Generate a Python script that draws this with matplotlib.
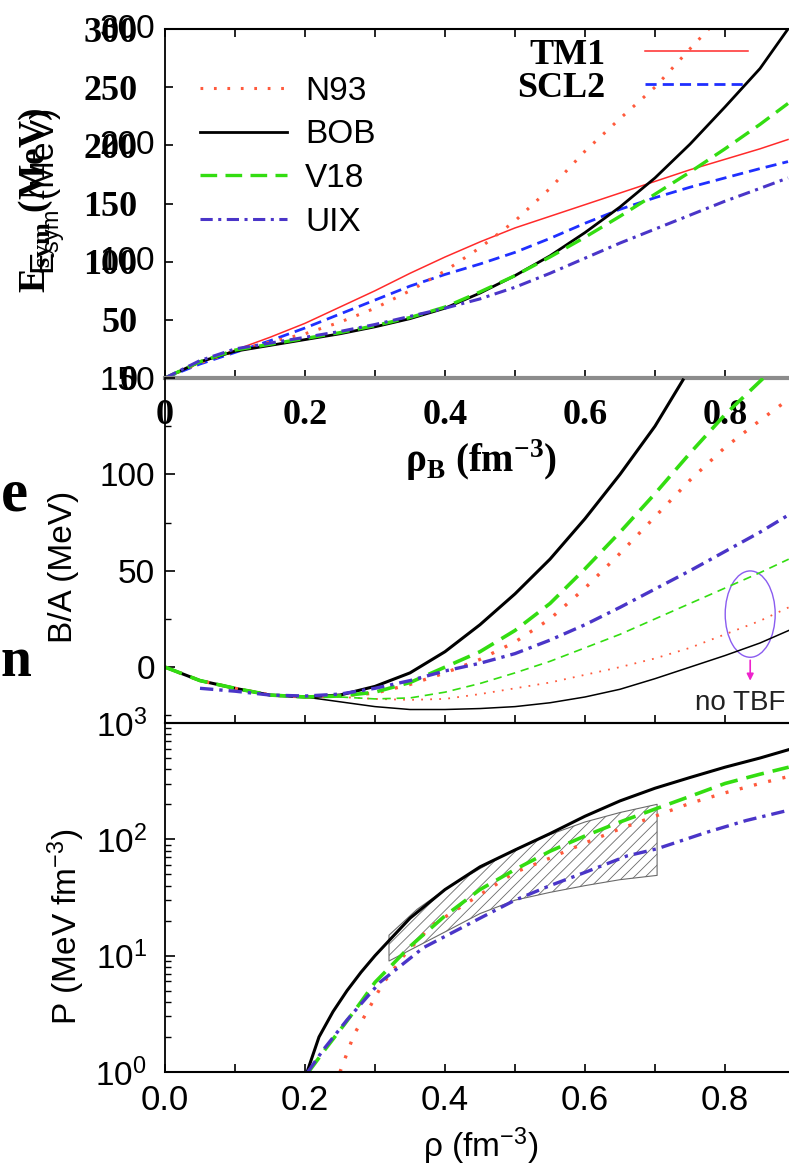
import numpy as np
import matplotlib.pyplot as plt
from matplotlib.patches import Ellipse

plt.rcParams['font.family'] = ['Liberation Sans', 'DejaVu Sans']
plt.rcParams['mathtext.fontset'] = 'custom'
plt.rcParams['mathtext.rm'] = 'Liberation Sans'
plt.rcParams['mathtext.it'] = 'Liberation Sans:italic'
plt.rcParams['mathtext.bf'] = 'Liberation Serif:bold'
plt.rcParams['mathtext.sf'] = 'Liberation Sans'
plt.rcParams['hatch.linewidth'] = 0.6

SANS = 'Liberation Sans'
SERIF = 'Liberation Serif'

# --- top panel: symmetry energy (MeV) vs rho_B (fm^-3)
RHO_SYM = [0, .05, .1, .15, .2, .25, .3, .35, .4, .45, .5, .55, .6, .65, .7, .75, .8, .85, .89]
ESYM_TM1 = [0, 13, 24, 35, 47, 61, 75, 90, 104, 117, 129, 139, 149, 159, 169, 179, 188, 197, 205]
ESYM_SCL2 = [0, 12, 22, 32, 43, 55, 67, 79, 89, 98, 108, 120, 133, 145, 155, 164, 172, 180, 186]
ESYM_BOB = [0, 14, 23, 28, 33, 38, 44, 51, 60, 73, 88, 105, 125, 147, 172, 201, 233, 266, 300]
ESYM_V18 = [0, 14, 24, 29, 34, 39, 45, 52, 61, 74, 88, 104, 121, 139, 158, 177, 197, 218, 236]
ESYM_UIX = [0, 15, 25, 30, 35, 40, 46, 53, 60, 68, 78, 90, 103, 116, 128, 140, 152, 163, 172]
RHO_SYM_N93 = [0, .05, .1, .15, .2, .25, .3, .35, .4, .45, .5, .55, .6, .65, .7, .75, .78]
ESYM_N93 = [0, 13, 23, 31, 38, 48, 60, 75, 92, 112, 135, 163, 195, 223, 250, 283, 302]

# --- middle panel: B/A (MeV), with TBF
RHO_EA_BOB = [0, .05, .1, .15, .2, .25, .3, .35, .4, .45, .5, .55, .6, .65, .7, .74]
EA_BOB = [0, -7, -11, -14.5, -15.5, -14.5, -10, -3, 8, 22, 38, 56, 77, 100, 125, 149]
RHO_EA_V18 = [0, .05, .1, .15, .2, .25, .3, .35, .4, .45, .5, .55, .6, .65, .7, .75, .8, .855]
EA_V18 = [0, -7, -11, -14.5, -15.5, -15, -13, -8, 0, 8, 19, 33, 51, 70, 90, 111, 131, 150]
RHO_EA_N93 = [0, .05, .1, .15, .2, .25, .3, .35, .4, .45, .5, .55, .6, .65, .7, .75, .8, .85, .891]
EA_N93 = [0, -7, -11, -14.5, -15.5, -15, -13.5, -9, -3, 4, 13, 25, 41, 59, 78, 97, 114, 128, 139]
RHO_EA_UIX = [.05, .1, .15, .2, .25, .3, .35, .4, .45, .5, .55, .6, .65, .7, .75, .8, .85, .891]
EA_UIX = [-11, -12.5, -14.5, -15, -14, -11, -7, -2, 2, 7, 14, 22, 31, 40.5, 50, 60, 70, 79]
# without TBF
RHO_NT = [.25, .3, .35, .4, .45, .5, .55, .6, .65, .7, .75, .8, .85, .891]
EA_V18_NT = [-15.5, -16.5, -16, -13, -8.5, -3, 3, 10, 17, 25, 33, 41, 49, 56]
EA_N93_NT = [-15.5, -16.5, -17, -16.5, -14, -11, -8, -4, 0, 4.5, 10, 17, 24, 31]
RHO_NT_BOB = [.2, .25, .3, .35, .4, .45, .5, .55, .6, .65, .7, .75, .8, .85, .891]
EA_BOB_NT = [-15.5, -18, -20.5, -22, -22, -21.5, -20.5, -18.5, -15.5, -11.5, -6, 0, 6, 12.5, 19]

# --- bottom panel: pressure (MeV fm^-3)
RHO_P_BOB = [.203, .22, .24, .26, .28, .3, .35, .4, .45, .5, .55, .6, .65, .7, .75, .8, .85, .891]
P_BOB = [1.0, 2.0, 3.3, 5.0, 7.2, 10, 21, 37, 58, 81, 112, 158, 214, 275, 340, 417, 500, 590]
RHO_P_V18 = [.205, .23, .257, .28, .3, .35, .4, .45, .5, .55, .6, .65, .7, .75, .8, .85, .891]
P_V18 = [1.0, 1.6, 2.6, 4.0, 5.9, 12, 22, 37, 55, 79, 107, 141, 182, 234, 302, 363, 417]
RHO_P_N93 = [.25, .27, .29, .31, .34, .38, .43, .5, .55, .6, .65, .7, .75, .8, .85, .891]
P_N93 = [1.0, 2.1, 3.4, 5.6, 9.8, 18, 28, 52, 69, 93, 123, 158, 204, 251, 302, 347]
RHO_P_UIX = [.204, .226, .26, .307, .369, .45, .5, .55, .6, .66, .703, .774, .83, .891]
P_UIX = [1.0, 1.55, 2.8, 5.9, 11.7, 21, 30, 40, 52, 72, 83, 115, 145, 178]
RHO_BAND = [.32, .36, .4, .45, .5, .55, .6, .65, .703]
P_BAND_HI = [15, 25, 37, 56, 82, 110, 141, 170, 200]
P_BAND_LO = [9, 12, 16, 23, 30, 35, 40, 45, 49]

X_MAJOR = [0, .2, .4, .6, .8]
X_MINOR = [.1, .3, .5, .7, .9]
X_LABELS_TOP = ['0', '0.2', '0.4', '0.6', '0.8']
X_LABELS_BOT = ['0.0', '0.2', '0.4', '0.6', '0.8']
Y_TICKS_SYM = [0, 50, 100, 150, 200, 250, 300]
Y_TICKS_SYM_SANS = [100, 200, 300]
Y_TICKS_EA = [0, 50, 100, 150]
Y_MINOR_EA = [-25, 25, 75, 125]

C_N93 = '#ff5a3c'
C_V18 = '#33dd11'
C_UIX = '#4a35c8'
C_TM1 = '#ff2a2a'
C_SCL2 = '#1f2fff'
LS_DOT = (0, (0.9, 3.5))
LS_DASH = (0, (5, 2.5))
LS_DDOT = (0, (4, 1.8, 1, 1.8))

W, H = 789, 1170
fig = plt.figure(figsize=(W / 100, H / 100), dpi=100)


def box(top, bottom):
    return [165 / W, 1 - bottom / H, 630 / W, (bottom - top) / H]


ax1 = fig.add_axes(box(29, 378))
ax2 = fig.add_axes(box(378, 723))
ax3 = fig.add_axes(box(723, 1072))
for ax in (ax2, ax3):
    ax.patch.set_alpha(0)

# ---------- top panel
l_tm1, = ax1.plot(RHO_SYM, ESYM_TM1, color=C_TM1, lw=1.1, label='TM1')
l_scl2, = ax1.plot(RHO_SYM, ESYM_SCL2, color=C_SCL2, lw=2, ls=(0, (4, 2.2)), label='SCL2')
l_n93, = ax1.plot(RHO_SYM_N93, ESYM_N93, color=C_N93, lw=2.2, ls=LS_DOT, label='N93')
l_bob, = ax1.plot(RHO_SYM, ESYM_BOB, color='k', lw=2, label='BOB')
l_v18, = ax1.plot(RHO_SYM, ESYM_V18, color=C_V18, lw=2.4, ls=LS_DASH, label='V18')
l_uix, = ax1.plot(RHO_SYM, ESYM_UIX, color=C_UIX, lw=2.2, ls=LS_DDOT, label='UIX')
ax1.set_xlim(0, 0.9)
ax1.set_ylim(0, 300)
ax1.set_xticks(X_MAJOR)
ax1.set_xticks(X_MINOR, minor=True)
ax1.set_xticklabels(X_LABELS_TOP, fontfamily=SERIF, fontweight='bold', fontsize=26)
ax1.set_yticks(Y_TICKS_SYM)
ax1.set_yticklabels([str(v) for v in Y_TICKS_SYM], fontfamily=SERIF, fontweight='bold', fontsize=26)
ax1.tick_params(axis='x', which='both', direction='in', top=True, length=6, width=1.2, pad=15)
ax1.tick_params(axis='y', direction='in', length=6, width=1.2, pad=20)
for v in Y_TICKS_SYM_SANS:
    ax1.annotate(str(v), xy=(0, v), xycoords=('axes fraction', 'data'), xytext=(-7, 0),
                 textcoords='offset points', ha='right', va='center', fontsize=24, fontfamily=SANS)
ax1.spines['right'].set_visible(False)
ax1.spines['bottom'].set_color('#8c8c8c')
ax1.spines['bottom'].set_linewidth(3)
ax1.spines['top'].set_linewidth(1.5)
ax1.spines['left'].set_linewidth(1.3)

leg1 = ax1.legend(handles=[l_n93, l_bob, l_v18, l_uix], loc='upper left', bbox_to_anchor=(0.056, 0.866),
                  frameon=False, prop=dict(family=SANS, size=24), handlelength=2.6,
                  handletextpad=0.55, labelspacing=0.38, borderpad=0, borderaxespad=0)
ax1.add_artist(leg1)
ax1.legend(handles=[l_tm1, l_scl2], loc='upper right', bbox_to_anchor=(0.925, 0.973), markerfirst=False,
           frameon=False, prop=dict(family=SERIF, weight='bold', size=26), handlelength=2.85,
           handletextpad=1.1, labelspacing=0.0, borderpad=0, borderaxespad=0)

# ---------- middle panel
ax2.plot(RHO_NT_BOB, EA_BOB_NT, color='k', lw=1.1)
ax2.plot(RHO_NT, EA_N93_NT, color=C_N93, lw=1.3, ls=(0, (1, 4)))
ax2.plot(RHO_NT, EA_V18_NT, color=C_V18, lw=1.2, ls=(0, (5, 3.5)))
ax2.plot(RHO_EA_BOB, EA_BOB, color='k', lw=2.2)
ax2.plot(RHO_EA_N93, EA_N93, color=C_N93, lw=2.4, ls=LS_DOT)
ax2.plot(RHO_EA_V18, EA_V18, color=C_V18, lw=2.6, ls=LS_DASH)
ax2.plot(RHO_EA_UIX, EA_UIX, color=C_UIX, lw=2.4, ls=LS_DDOT)
ax2.set_xlim(0, 0.9)
ax2.set_ylim(-29, 150)
ax2.set_xticks(X_MAJOR)
ax2.set_xticks(X_MINOR, minor=True)
ax2.set_xticklabels([])
ax2.set_yticks(Y_TICKS_EA)
ax2.set_yticks(Y_MINOR_EA, minor=True)
ax2.set_yticklabels([str(v) for v in Y_TICKS_EA], fontsize=24)
ax2.tick_params(axis='x', which='both', direction='in', length=6, width=1.2)
ax2.tick_params(axis='y', which='major', direction='in', length=7, width=1.2, pad=7)
ax2.tick_params(axis='y', which='minor', direction='in', length=4, width=1)
ax2.spines['top'].set_visible(False)
ax2.spines['right'].set_visible(False)
ax2.spines['left'].set_linewidth(1.3)
ax2.spines['bottom'].set_linewidth(1.5)

ax2.add_patch(Ellipse((0.836, 27.5), 0.0714, 44.8, fill=False, edgecolor='#8a5cf0', lw=1.0))
ax2.annotate('', xy=(0.836, -8.5), xytext=(0.836, 5),
             arrowprops=dict(arrowstyle='-|>', color='#ee22cc', lw=1.2, mutation_scale=10))
ax2.text(0.757, -18.5, 'no TBF', fontsize=20, ha='left', va='center', color='#222222')

# ---------- bottom panel
ax3.fill_between(RHO_BAND, P_BAND_LO, P_BAND_HI, facecolor='none', edgecolor='#6a6a6a',
                 hatch='///', lw=0.8)
ax3.plot(RHO_P_BOB, P_BOB, color='k', lw=2.2)
ax3.plot(RHO_P_N93, P_N93, color=C_N93, lw=2.4, ls=LS_DOT)
ax3.plot(RHO_P_V18, P_V18, color=C_V18, lw=2.6, ls=LS_DASH)
ax3.plot(RHO_P_UIX, P_UIX, color=C_UIX, lw=2.4, ls=LS_DDOT)
ax3.set_yscale('log')
ax3.set_xlim(0, 0.9)
ax3.set_ylim(1, 1000)
ax3.set_xticks(X_MAJOR)
ax3.set_xticks(X_MINOR, minor=True)
ax3.set_xticklabels(X_LABELS_BOT, fontsize=25)
ax3.tick_params(axis='x', which='both', direction='in', length=6, width=1.2, pad=9)
ax3.tick_params(axis='y', which='major', direction='in', length=7, width=1.2, pad=13, labelsize=24)
ax3.tick_params(axis='y', which='minor', direction='in', length=4, width=1)
ax3.spines['right'].set_visible(False)
ax3.spines['left'].set_linewidth(1.3)
ax3.spines['top'].set_linewidth(1.5)
ax3.spines['bottom'].set_linewidth(1.5)

# ---------- axis titles and stray text
fig.text(37 / W, 1 - 200 / H, r'$\mathbf{E_{sym}}$ (MeV)', fontfamily=SERIF, fontweight='bold',
         fontsize=27, rotation=90, ha='center', va='center')
fig.text(48 / W, 1 - 192 / H, r'$\mathsf{E_{sym}}$ (MeV)', fontfamily=SANS, fontsize=24,
         rotation=90, ha='center', va='center')
fig.text(481 / W, 1 - 460 / H, r'ρ$_{\mathbf{B}}$ (fm$^{\mathbf{-3}}$)', fontfamily=SERIF,
         fontweight='bold', fontsize=28, ha='center', va='center')
fig.text(64 / W, 1 - 567 / H, 'B/A (MeV)', fontsize=24, rotation=90, ha='center', va='center')
fig.text(66 / W, 1 - 927 / H, r'P (MeV fm$^{\mathrm{-3}}$)', fontsize=24, rotation=90,
         ha='center', va='center')
fig.text(481 / W, 1 - 1146 / H, r'ρ (fm$^{\mathrm{-3}}$)', fontsize=24, ha='center', va='center')
fig.text(1 / W, 1 - 495 / H, 'e', fontfamily=SERIF, fontweight='bold', fontsize=44,
         ha='left', va='center')
fig.text(0, 1 - 662 / H, 'n', fontfamily=SERIF, fontweight='bold', fontsize=40,
         ha='left', va='center')

fig.savefig('out.png', dpi=100)
